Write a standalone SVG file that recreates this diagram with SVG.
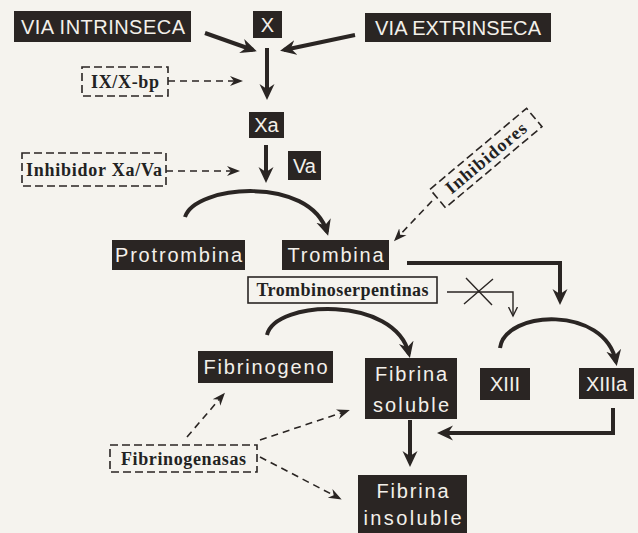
<svg xmlns="http://www.w3.org/2000/svg" width="638" height="533" viewBox="0 0 638 533">
<defs>
<style>
.box{fill:#2a2523}
.wt{fill:#f3f0ea;font-family:"Liberation Sans",Arial,sans-serif;font-size:20px;text-anchor:middle}
.dbox{fill:none;stroke:#2a2523;stroke-width:1.6;stroke-dasharray:8 4}
.sb{fill:#f5f3ee;stroke:#2a2523;stroke-width:1.6}
.st{font-family:"Liberation Serif","Times New Roman",serif;font-weight:bold;font-size:18px;fill:#222;text-anchor:middle}
.thick{stroke:#2a2523;stroke-width:4;fill:none;marker-end:url(#ah)}
.dash{stroke:#2a2523;stroke-width:1.6;stroke-dasharray:7 5;fill:none;marker-end:url(#dh)}
.thin{stroke:#2a2523;stroke-width:1.4;fill:none}
</style>
<marker id="ah" markerUnits="userSpaceOnUse" markerWidth="18" markerHeight="18" refX="12" refY="8" orient="auto"><path d="M0,0.5 L16,8 L0,15.5 L5,8 z" fill="#2a2523"/></marker>
<marker id="dh" markerUnits="userSpaceOnUse" markerWidth="15" markerHeight="12" refX="10" refY="6" orient="auto"><path d="M0,1 L13,6 L0,11 L4,6 z" fill="#2a2523"/></marker>
<marker id="oh" markerUnits="userSpaceOnUse" markerWidth="12" markerHeight="10" refX="9" refY="5" orient="auto"><path d="M0,0.5 L9,5 L0,9.5" fill="none" stroke="#2a2523" stroke-width="1.4"/></marker>
</defs>
<rect width="638" height="533" fill="#f5f3ee"/>

<g id="connectors">
<path class="thick" d="M205,33 L253,50"/>
<path class="thick" d="M355,35 L284,50"/>
<path class="thick" d="M267,48 V96"/>
<path class="thick" d="M266,145 V179"/>
<path class="thick" d="M185,217 C195,185 310,175 327,232"/>
<path class="thick" d="M407,263 H560 V301"/>
<path class="thick" d="M267,335 C275,300 395,295 409,354"/>
<path class="thick" d="M500,348 C505,310 605,305 616,362"/>
<path class="thick" d="M613,408 V433 H441"/>
<path class="thick" d="M410,420 V463"/>
<path class="dash" d="M168,81 H240"/>
<path class="dash" d="M166,171 H237"/>
<path class="dash" d="M432,201 L396,239"/>
<path class="dash" d="M187,437 L223,395"/>
<path class="dash" d="M260,440 L347,411"/>
<path class="dash" d="M260,457 L339,498"/>
<path class="thin" d="M447,292 H513 V316" marker-end="url(#oh)"/>
<path class="thin" d="M466,278 L492,305 M464,304 L493,279"/>
</g>

<g id="via-intrinseca"><rect class="box" x="14" y="11" width="177" height="31"/><text class="wt" x="103" y="34" textLength="164" lengthAdjust="spacing">VIA INTRINSECA</text></g>
<g id="x"><rect class="box" x="253" y="11" width="29" height="27"/><text class="wt" x="267.5" y="32">X</text></g>
<g id="via-extrinseca"><rect class="box" x="365" y="13" width="186" height="29"/><text class="wt" x="458" y="35" textLength="166" lengthAdjust="spacing">VIA EXTRINSECA</text></g>
<g id="ixx-bp"><rect class="dbox" x="82" y="67" width="86" height="29"/><text class="st" x="125" y="88" textLength="68" lengthAdjust="spacing">IX/X-bp</text></g>
<g id="xa"><rect class="box" x="249" y="112" width="35" height="26"/><text class="wt" x="266.5" y="132">Xa</text></g>
<g id="va"><rect class="box" x="288" y="151" width="33" height="29"/><text class="wt" x="304.5" y="173">Va</text></g>
<g id="inhibidor-xa-va"><rect class="dbox" x="22" y="153" width="144" height="33"/><text class="st" x="94" y="176" textLength="136" lengthAdjust="spacing">Inhibidor Xa/Va</text></g>
<g id="inhibidores" transform="translate(486,158) rotate(-40)"><rect class="dbox" x="-63" y="-12" width="126" height="24"/><text class="st" x="0" y="6" textLength="100" lengthAdjust="spacing">Inhibidores</text></g>
<g id="protrombina"><rect class="box" x="112" y="240" width="133" height="30"/><text class="wt" x="178.5" y="262" textLength="127" lengthAdjust="spacing">Protrombina</text></g>
<g id="trombina"><rect class="box" x="282" y="240" width="107" height="30"/><text class="wt" x="335.5" y="262" textLength="96" lengthAdjust="spacing">Trombina</text></g>
<g id="trombinoserpentinas"><rect class="sb" x="248" y="277" width="189" height="26"/><text class="st" x="342.5" y="296" textLength="172" lengthAdjust="spacing">Trombinoserpentinas</text></g>
<g id="fibrinogeno"><rect class="box" x="198" y="351" width="135" height="32"/><text class="wt" x="265.5" y="374" textLength="124" lengthAdjust="spacing">Fibrinogeno</text></g>
<g id="fibrina-soluble"><rect class="box" x="365" y="358" width="92" height="61"/><text class="wt" x="411" y="381" textLength="72" lengthAdjust="spacing">Fibrina</text><text class="wt" x="411" y="412" textLength="76" lengthAdjust="spacing">soluble</text></g>
<g id="xiii"><rect class="box" x="480" y="368" width="50" height="32"/><text class="wt" x="505" y="391">XIII</text></g>
<g id="xiiia"><rect class="box" x="579" y="368" width="55" height="31"/><text class="wt" x="606.5" y="391">XIIIa</text></g>
<g id="fibrinogenasas"><rect class="dbox" x="110" y="445" width="147" height="27"/><text class="st" x="183.5" y="465" textLength="125" lengthAdjust="spacing">Fibrinogenasas</text></g>
<g id="fibrina-insoluble"><rect class="box" x="358" y="475" width="109" height="58"/><text class="wt" x="412.5" y="498" textLength="72" lengthAdjust="spacing">Fibrina</text><text class="wt" x="412.5" y="525" textLength="98" lengthAdjust="spacing">insoluble</text></g>
</svg>
